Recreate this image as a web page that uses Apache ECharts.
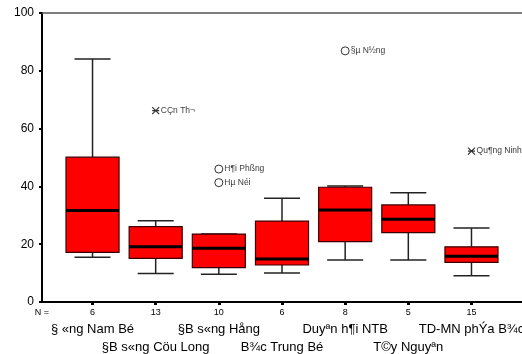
<!DOCTYPE html>
<html>
<head>
<meta charset="utf-8">
<script src="https://cdn.jsdelivr.net/npm/echarts@6/dist/echarts.min.js"></script>
<style>html,body{margin:0;padding:0;background:#fff}#c{width:522px;height:354px}</style>
</head>
<body>
<div id="c"></div>
<script>
// Data
var categories = ['§ «ng Nam Bé', '§B s«ng Cöu Long', '§B s«ng Hång', 'B¾c Trung Bé', 'Duyªn h¶i NTB', 'T©y Nguyªn', 'TD-MN phÝa B¾c'];
var counts = [6, 13, 10, 6, 8, 5, 15];
// [min, Q1, median, Q3, max]
var boxStats = [
  [15.5, 17.2, 31.7, 50.1, 84.1],
  [9.9, 15.1, 19.1, 26.1, 28.1],
  [9.6, 11.9, 18.6, 23.5, 23.5],
  [10.0, 12.8, 14.9, 28.0, 35.9],
  [14.5, 20.9, 31.8, 39.7, 40.1],
  [14.5, 24.0, 28.6, 33.6, 37.8],
  [9.1, 13.7, 15.8, 19.1, 25.6]
];
var outlierCats = [2, 3, 3, 5, 7];
var outlierValues = [66.2, 46.0, 41.3, 86.9, 52.2];
var outlierNames = ['CÇn Th¬', 'H¶i Phßng', 'Hµ Néi', '§µ N½ng', 'Qu¶ng Ninh'];
var outlierExtreme = [true, false, false, false, true];
var yTicks = [0, 20, 40, 60, 80, 100];

var positions = categories.map(function (c, i) { return i + 1; });
var boxData = boxStats.map(function (s, i) { return [positions[i]].concat(s); });
var circleData = [], starData = [];
outlierValues.forEach(function (v, i) {
  var item = { value: [outlierCats[i], v], name: outlierNames[i] };
  (outlierExtreme[i] ? starData : circleData).push(item);
});

var chart = echarts.init(document.getElementById('c'), null, { renderer: 'canvas' });
var FONT = '"Liberation Sans", Arial, sans-serif';

var richStyles = {
  n: { fontSize: 9, lineHeight: 12, color: '#000', fontFamily: FONT },
  s: { fontSize: 13, lineHeight: 18, color: '#000', fontFamily: FONT },
  c: { fontSize: 13, lineHeight: 20, color: '#000', fontFamily: FONT }
};
var evenPos = positions.filter(function (p, i) { return i % 2 === 0; });
var oddPos = positions.filter(function (p, i) { return i % 2 === 1; });

var option = {
  animation: false,
  backgroundColor: '#fff',
  grid: { left: 42, right: 0, top: 13, bottom: 52, containLabel: false, outerBoundsMode: 'none' },
  xAxis: [{
    type: 'value', min: 0.2, max: 7.8,
    splitLine: { show: false },
    axisLine: { show: true, onZero: false, lineStyle: { color: '#000', width: 2 } },
    axisTick: { show: true, customValues: positions, length: 3, lineStyle: { color: '#000', width: 3 } },
    axisLabel: {
      show: true, hideOverlap: false,
      customValues: [0.2].concat(positions),
      margin: 5,
      showMinLabel: true, showMaxLabel: true,
      fontFamily: FONT,
      formatter: function (val) {
        if (Math.abs(val - 0.2) < 1e-6) return '{n|N =}';
        var i = Math.round(val) - 1;
        if (i % 2 === 0) return '{n|' + counts[i] + '}\n{c|' + categories[i] + '}';
        return '{n|' + counts[i] + '}';
      },
      rich: richStyles
    }
  }, {
    type: 'value', min: 0.2, max: 7.8, position: 'bottom',
    splitLine: { show: false },
    axisLine: { show: false }, axisTick: { show: false },
    axisLabel: {
      show: true, hideOverlap: false,
      customValues: oddPos,
      margin: 5,
      fontFamily: FONT,
      formatter: function (val) {
        var i = Math.round(val) - 1;
        return '{n| }\n{s| }\n{c|' + categories[i] + '}';
      },
      rich: richStyles
    }
  }, {
    type: 'value', min: 0.2, max: 7.8, position: 'top',
    splitLine: { show: false },
    axisLine: { show: true, onZero: false, lineStyle: { color: '#555', width: 1.5 } },
    axisTick: { show: false }, axisLabel: { show: false }
  }],
  yAxis: {
    type: 'value', min: 0, max: 100, interval: 20,
    splitLine: { show: false },
    axisLine: { show: true, lineStyle: { color: '#000', width: 2 } },
    axisTick: { show: true, length: 3, lineStyle: { color: '#000', width: 2 } },
    axisLabel: { fontSize: 12, color: '#000', margin: 8, fontFamily: FONT,
      formatter: function (v) { return yTicks.indexOf(v) >= 0 ? String(v) : ''; } }
  },
  series: [{
    type: 'custom',
    data: boxData,
    encode: { x: 0, y: [1, 2, 3, 4, 5] },
    clip: false,
    renderItem: function (params, api) {
      var x = api.value(0);
      var unit = api.size([1, 0])[0];
      var bw = unit * 0.84 / 2, cw = unit * 0.57 / 2;
      var pMin = api.coord([x, api.value(1)]);
      var pQ1 = api.coord([x, api.value(2)]);
      var pMed = api.coord([x, api.value(3)]);
      var pQ3 = api.coord([x, api.value(4)]);
      var pMax = api.coord([x, api.value(5)]);
      var cx = pMed[0];
      var wStyle = { stroke: '#222', lineWidth: 1.5 };
      return {
        type: 'group',
        children: [
          { type: 'line', shape: { x1: cx, y1: pQ3[1], x2: cx, y2: pMax[1] }, style: wStyle },
          { type: 'line', shape: { x1: cx, y1: pQ1[1], x2: cx, y2: pMin[1] }, style: wStyle },
          { type: 'line', shape: { x1: cx - cw, y1: pMax[1], x2: cx + cw, y2: pMax[1] }, style: wStyle },
          { type: 'line', shape: { x1: cx - cw, y1: pMin[1], x2: cx + cw, y2: pMin[1] }, style: wStyle },
          { type: 'rect', shape: { x: cx - bw, y: pQ3[1], width: 2 * bw, height: pQ1[1] - pQ3[1] },
            style: { fill: '#ff0000', stroke: '#3a0000', lineWidth: 1.2 } },
          { type: 'line', shape: { x1: cx - bw, y1: pMed[1], x2: cx + bw, y2: pMed[1] },
            style: { stroke: '#000', lineWidth: 3 } }
        ]
      };
    }
  }, {
    type: 'scatter',
    data: circleData,
    symbol: 'circle', symbolSize: 8,
    itemStyle: { color: 'rgba(255,255,255,0)', borderColor: '#000', borderWidth: 1 },
    label: { show: true, position: 'right', distance: 1, formatter: '{b}', fontSize: 8.5, color: '#000', fontFamily: FONT },
    emphasis: { disabled: true }
  }, {
    type: 'scatter',
    data: starData,
    symbol: 'path://M0,0L10,10M0,10L10,0M0,5L10,5',
    symbolSize: 7,
    itemStyle: { color: 'rgba(0,0,0,0)', borderColor: '#000', borderWidth: 1.2 },
    label: { show: true, position: 'right', distance: 1, formatter: '{b}', fontSize: 8.5, color: '#000', fontFamily: FONT },
    emphasis: { disabled: true }
  }]
};
chart.setOption(option);
</script>
</body>
</html>
